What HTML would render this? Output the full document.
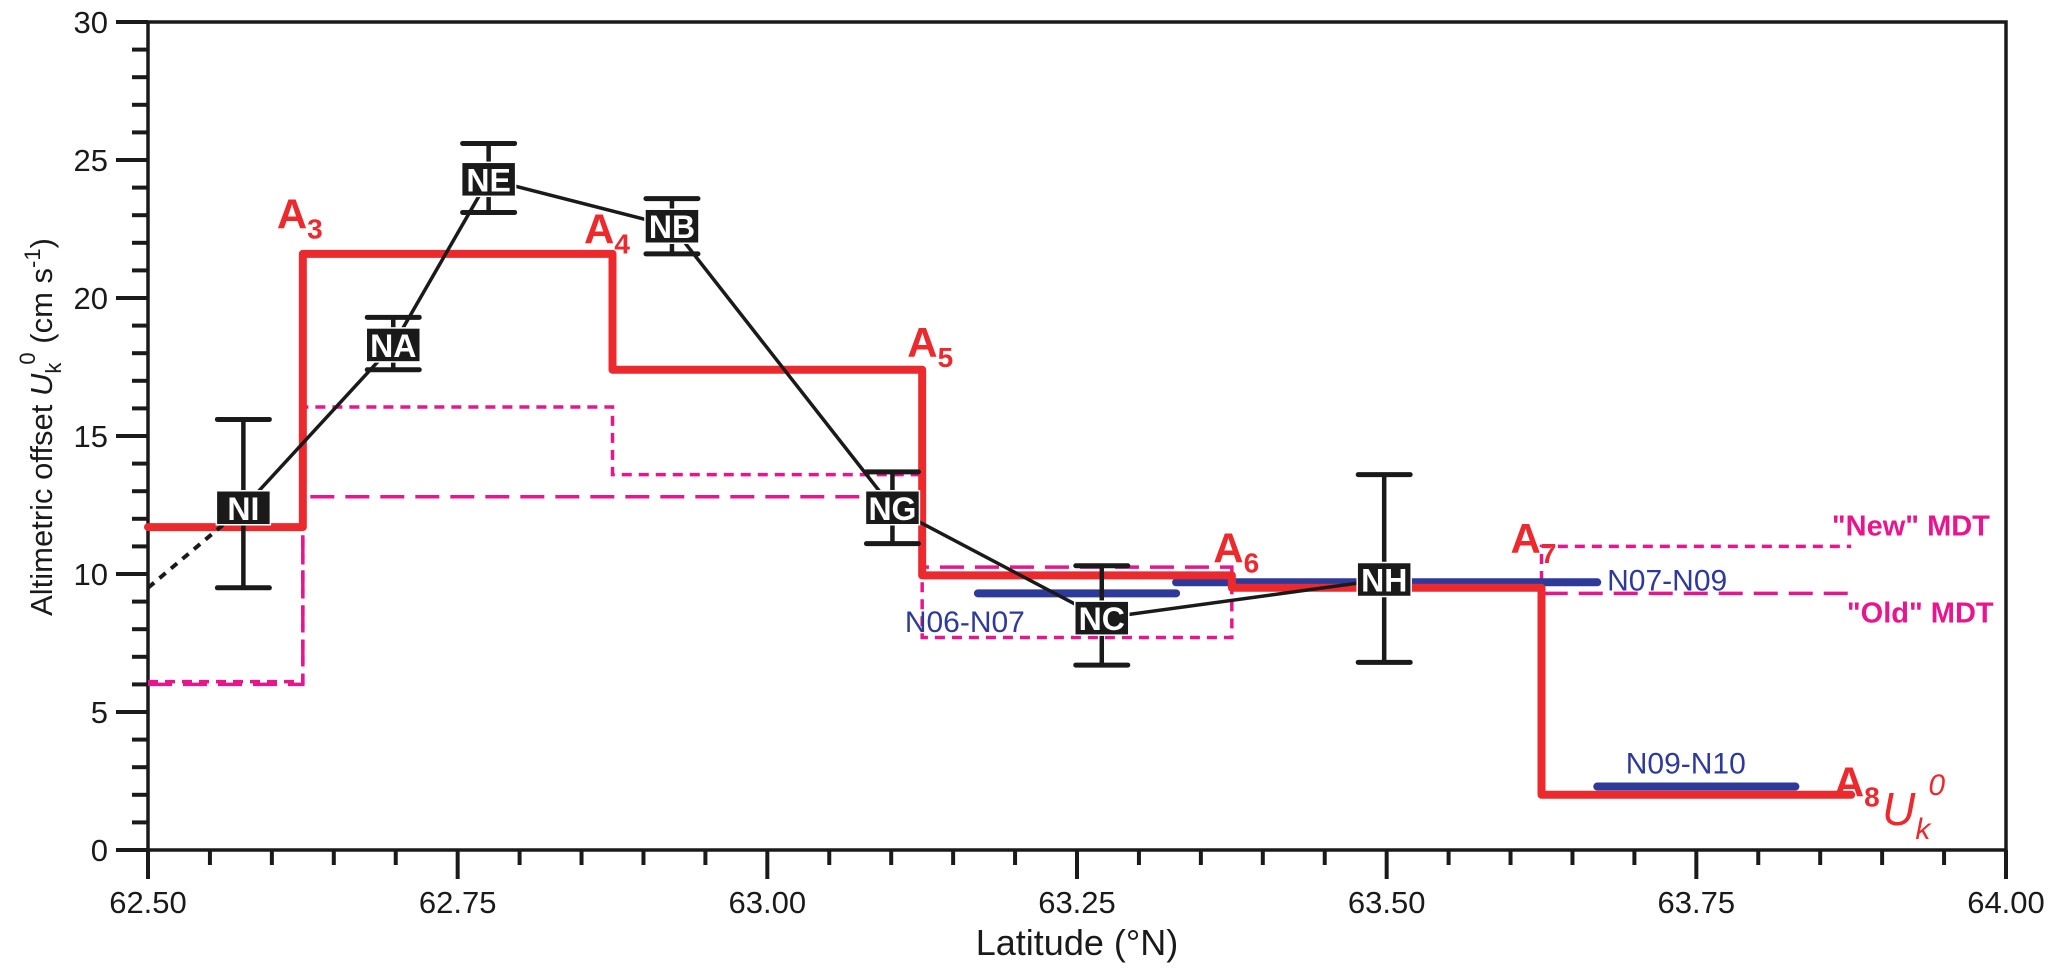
<!DOCTYPE html>
<html><head><meta charset="utf-8"><style>
html,body{margin:0;padding:0;background:#fff;}
svg{display:block;font-family:"Liberation Sans",Arial,sans-serif;}
</style></head><body>
<svg id="chart" width="2067" height="970" viewBox="0 0 2067 970" xmlns="http://www.w3.org/2000/svg">
</svg>
<script>
const stepEdges=[62.5,62.625,62.875,63.125,63.375,63.625,63.875];
const ukValues=[11.7,21.6,17.4,9.95,9.5,2.0];
const newMdt=[6.1,16.05,13.6,7.7,9.6,11.0];
const oldMdt=[6.0,12.8,12.8,10.25,9.6,9.3];
const stationNames=["NI","NA","NE","NB","NG","NC","NH"];
const stationLat=[62.577,62.698,62.775,62.923,63.101,63.27,63.498];
const stationVal=[12.4,18.3,24.3,22.6,12.4,8.4,9.8];
const errLow=[9.5,17.4,23.1,21.6,11.1,6.7,6.8];
const errHigh=[15.6,19.3,25.6,23.6,13.7,10.3,13.6];
const blueNames=["N06-N07","N07-N09","N09-N10"];
const blueStart=[63.17,63.33,63.67];
const blueEnd=[63.33,63.67,63.83];
const blueVal=[9.3,9.7,2.3];
const xTickLabels=["62.50","62.75","63.00","63.25","63.50","63.75","64.00"];
const yTickLabels=["0","5","10","15","20","25","30"];

const X0=148,X1=2006,Y0=850,Y1=22;
const sx=v=>X0+(v-62.5)/1.5*(X1-X0);
const sy=v=>Y0-v/30*(Y0-Y1);
const svg=document.getElementById('chart');
const NS="http://www.w3.org/2000/svg";
function mk(tag,attrs,parent){const e=document.createElementNS(NS,tag);for(const k in attrs)e.setAttribute(k,attrs[k]);(parent||svg).appendChild(e);return e;}

let fr=mk('rect',{x:X0,y:Y1,width:X1-X0,height:Y0-Y1,fill:'none',stroke:'#1a1a1a','stroke-width':3.5});


for(let i=0;i<=30;i++){
  const maj=i%5===0;
  let t=mk('line',{x1:X0,x2:X0-(maj?32:16),y1:sy(i),y2:sy(i),stroke:'#1a1a1a','stroke-width':4});
  
  
}
yTickLabels.forEach(l=>{
  let t=mk('text',{x:X0-40,y:sy(+l)+11,'text-anchor':'end','font-size':31,fill:'#1a1a1a'});
  t.textContent=l;
  
  
});
for(let i=0;i<=30;i++){
  const v=62.5+i*0.05,maj=i%5===0;
  let t=mk('line',{x1:sx(v),x2:sx(v),y1:Y0,y2:Y0+(maj?29:15),stroke:'#1a1a1a','stroke-width':4});
  
  
}
xTickLabels.forEach(l=>{
  let t=mk('text',{x:sx(+l),y:Y0+63,'text-anchor':'middle','font-size':31,fill:'#1a1a1a'});
  t.textContent=l;
  
  
});
let xt=mk('text',{x:sx(63.25),y:Y0+105,'text-anchor':'middle','font-size':36,fill:'#1a1a1a'});
xt.textContent='Latitude (°N)';


let yt=mk('text',{transform:`translate(52,427) rotate(-90)`,'text-anchor':'middle','font-size':31,fill:'#1a1a1a'});
yt.innerHTML='Altimetric offset <tspan font-style="italic">U</tspan><tspan font-size="22" dy="9">k</tspan><tspan font-size="22" dx="-2" dy="-26">0</tspan><tspan dy="17"> (cm s</tspan><tspan font-size="22" dy="-12">-1</tspan><tspan dy="12">)</tspan>';



function stepPath(vals){
  let d=`M${sx(stepEdges[0])},${sy(vals[0])}`;
  vals.forEach((v,i)=>{ if(i>0)d+=` L${sx(stepEdges[i])},${sy(v)}`; d+=` L${sx(stepEdges[i+1])},${sy(v)}`;});
  return d;
}
let om=mk('path',{d:stepPath(oldMdt),fill:'none',stroke:'#e8158c','stroke-width':3.5,'stroke-dasharray':'24,11'});


let nm=mk('path',{d:stepPath(newMdt),fill:'none',stroke:'#e8158c','stroke-width':3.5,'stroke-dasharray':'10,7'});



blueNames.forEach((n,i)=>{
  let b=mk('line',{x1:sx(blueStart[i]),x2:sx(blueEnd[i]),y1:sy(blueVal[i]),y2:sy(blueVal[i]),stroke:'#2e3a9a','stroke-width':8,'stroke-linecap':'round'});
  
  
});
let rs=mk('path',{d:stepPath(ukValues),fill:'none',stroke:'#ec2a2e','stroke-width':8,'stroke-linejoin':'round','stroke-linecap':'round'});



let dl=mk('line',{x1:sx(62.5),y1:sy(9.5),x2:sx(stationLat[0]),y2:sy(stationVal[0]),stroke:'#1a1a1a','stroke-width':4,'stroke-dasharray':'8,7'});


let pd=stationLat.map((v,i)=>(i?'L':'M')+sx(v)+','+sy(stationVal[i])).join(' ');
let bl=mk('path',{d:pd,fill:'none',stroke:'#1a1a1a','stroke-width':3.5});


stationNames.forEach((n,i)=>{
  const x=sx(stationLat[i]);
  const g=mk('g',{});
  
  
  mk('line',{x1:x,x2:x,y1:sy(errLow[i]),y2:sy(errHigh[i]),stroke:'#1a1a1a','stroke-width':4.5},g);
  [errLow[i],errHigh[i]].forEach(v=>mk('line',{x1:x-26,x2:x+26,y1:sy(v),y2:sy(v),stroke:'#1a1a1a','stroke-width':5,'stroke-linecap':'round'},g));
  mk('rect',{x:x-27,y:sy(stationVal[i])-17,width:54,height:34,fill:'#1a1a1a',stroke:'#fff','stroke-width':1.5},g);
  const t=mk('text',{x:x,y:sy(stationVal[i])+12,'text-anchor':'middle','font-size':32,'font-weight':'bold',fill:'#fff'},g);
  t.textContent=n;
});
const blueLblPos=[[63.111,7.9],[63.678,9.4],[63.693,2.77]];
blueNames.forEach((n,i)=>{
  let t=mk('text',{x:sx(blueLblPos[i][0]),y:sy(blueLblPos[i][1]),'font-size':30,fill:'#2e3a9a'});
  t.textContent=n;
  
  
});
const aLbl=[["3",62.604,22.3],["4",62.852,21.75],["5",63.113,17.65],["6",63.36,10.2],["7",63.6,10.55],["8",63.861,1.72]];
aLbl.forEach(a=>{
  let t=mk('text',{x:sx(a[1]),y:sy(a[2])-6,'font-size':42,'font-weight':'bold',fill:'#ec2a2e'});
  t.innerHTML='A<tspan font-size="28" dy="10">'+a[0]+'</tspan>';
  
  
});
let uk=mk('text',{x:sx(63.9),y:sy(0.9),'font-size':46,'font-style':'italic',fill:'#ec2a2e'});
uk.innerHTML='U<tspan font-size="30" dy="14">k</tspan><tspan font-size="30" dx="-2" dy="-44">0</tspan>';


let nl=mk('text',{x:sx(63.987),y:sy(11.4),'text-anchor':'end','font-size':29,'font-weight':'bold',fill:'#e8158c'});
nl.textContent='"New" MDT';


let ol=mk('text',{x:sx(63.99),y:sy(8.25),'text-anchor':'end','font-size':29,'font-weight':'bold',fill:'#e8158c'});
ol.textContent='"Old" MDT';


</script>
</body></html>
